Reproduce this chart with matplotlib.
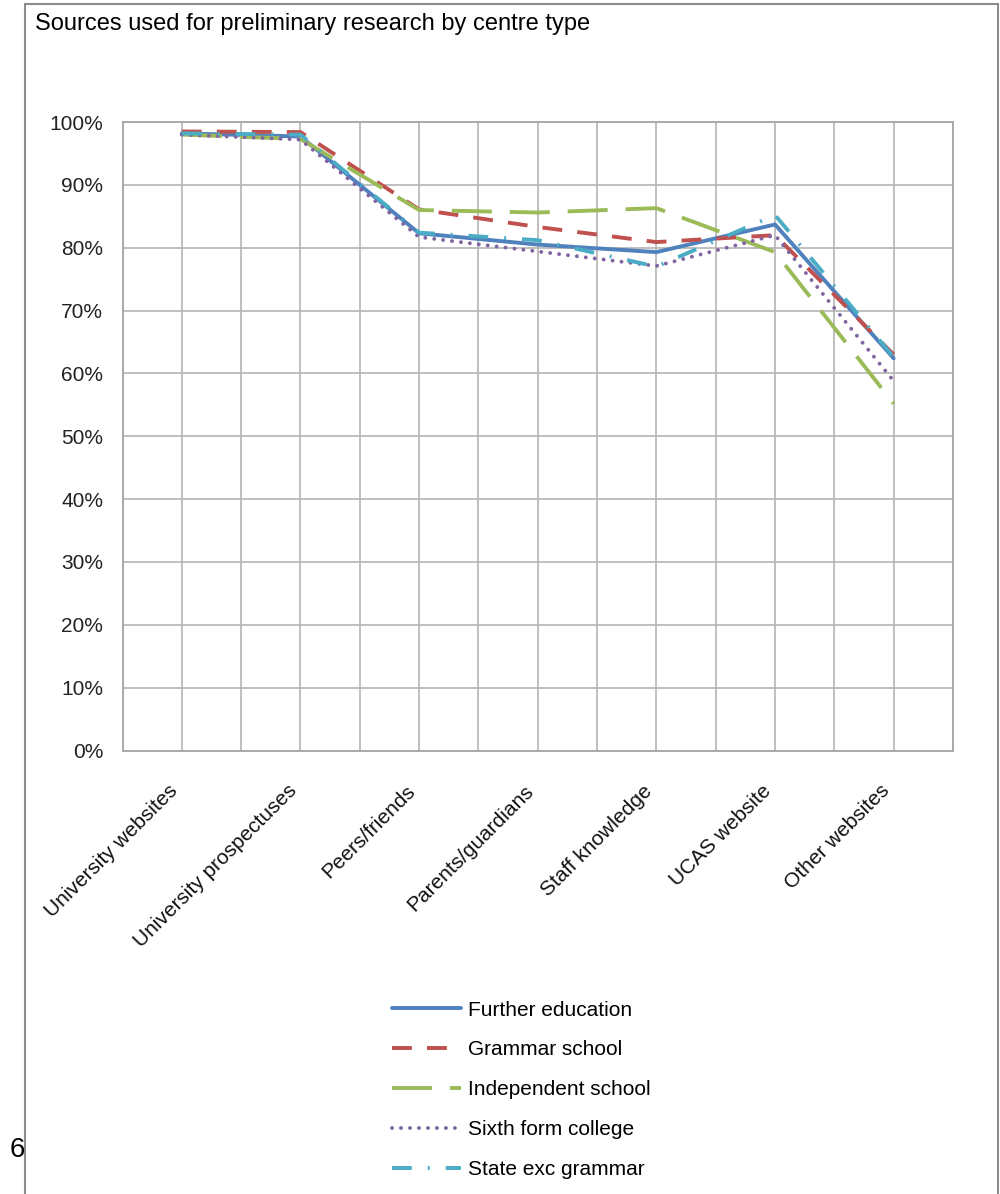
import numpy as np
import matplotlib
matplotlib.use("Agg")
import matplotlib.pyplot as plt
from matplotlib.patches import Rectangle
from matplotlib.ticker import PercentFormatter

plt.rcParams['font.family'] = ['Liberation Sans', 'DejaVu Sans']

# data (share of respondents using each source)
sources = ['University websites', 'University prospectuses', 'Peers/friends',
           'Parents/guardians', 'Staff knowledge', 'UCAS website', 'Other websites']

further_education = [98.2, 97.7, 82.3, 80.5, 79.3, 83.7, 62.4]
grammar_school = [98.5, 98.4, 86.1, 83.3, 80.9, 82.0, 63.0]
independent_school = [98.0, 97.3, 86.0, 85.6, 86.3, 79.3, 55.2]
sixth_form_college = [98.0, 97.2, 81.7, 79.4, 77.1, 82.0, 58.8]
state_exc_grammar = [98.2, 98.0, 82.4, 81.2, 77.0, 85.2, 62.6]

series = [
    ('Further education', further_education, '#4F81BD', None),
    ('Grammar school', grammar_school, '#C0504D', (5.1, 3.9)),
    ('Independent school', independent_school, '#9BBB59', (10.3, 4.6)),
    ('Sixth form college', sixth_form_college, '#8064A2', (0.01, 2.3)),
    ('State exc grammar', state_exc_grammar, '#4BACC6', (5.1, 4.1, 0.5, 4.1)),
]

fig = plt.figure(figsize=(10, 11.94), dpi=100)

# outer chart frame
fig.patches.append(Rectangle((0.025, -0.01), 0.973, 1.007, transform=fig.transFigure,
                             fill=False, edgecolor='#8C8C8C', linewidth=1.5))
fig.text(0.035, 0.980, 'Sources used for preliminary research by centre type',
         fontsize=17, ha='left', va='center')
fig.text(0.017, 0.037, '6', fontsize=20, ha='center', va='center')

ax = fig.add_axes([0.1225, 0.3714, 0.8305, 0.5264])
x = np.arange(len(sources))

for name, vals, col, dash in series:
    ln, = ax.plot(x, np.array(vals) / 100, color=col, lw=2.8, label=name,
                  solid_capstyle='round', solid_joinstyle='round')
    if dash is not None:
        ln.set_dashes(dash)
        if name == 'Sixth form college':
            ln.set_dash_capstyle('round')

ax.set_xlim(-0.5, 6.5)
ax.set_ylim(0, 1)
ax.set_yticks(np.arange(0, 1.01, 0.1))
ax.yaxis.set_major_formatter(PercentFormatter(1.0, decimals=0))
ax.set_xticks(x)
ax.set_xticks(np.arange(-0.5, 6.6, 1.0), minor=True)
ax.set_xticklabels(sources, rotation=45, ha='right', va='top', fontsize=15)
ax.tick_params(axis='x', which='both', length=0, pad=22)
ax.tick_params(axis='y', length=0, pad=14, labelsize=15)
ax.tick_params(colors='#222222')
for lbl in ax.get_xticklabels():
    lbl.set_color('#111111')

ax.grid(True, which='both', color='#B4B4B4', lw=1.2)
ax.set_axisbelow(True)
for s in ax.spines.values():
    s.set_color('#A6A6A6')
    s.set_linewidth(1.3)

leg = ax.legend(loc='upper left', bbox_to_anchor=(0.392, 0.162),
                bbox_transform=fig.transFigure, frameon=False, fontsize=15,
                handlelength=3.3, handletextpad=0.35, labelspacing=1.0,
                borderpad=0, borderaxespad=0)

fig.savefig('out.png', dpi=100)
